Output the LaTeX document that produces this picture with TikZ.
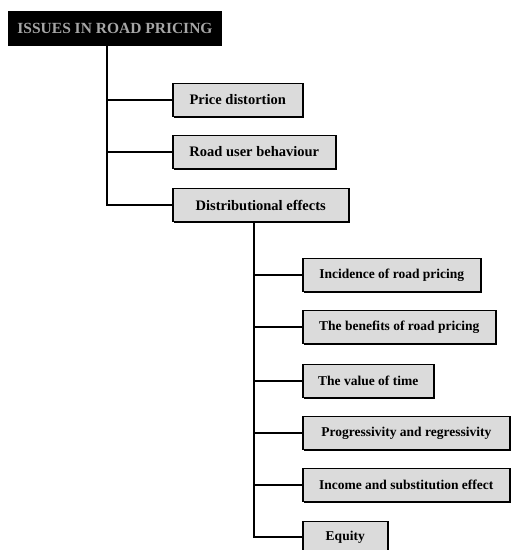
\documentclass[tikz,border=0pt]{standalone}
\usepackage{fontspec}
\setmainfont{Liberation Serif}
\usetikzlibrary{shadows}
\begin{document}
\begin{tikzpicture}[x=1pt, y=-1pt, every node/.style={font=\fontsize{13.5}{16}\selectfont\bfseries},
  box/.style={draw,line width=1.5pt,fill=gray!28,minimum height=33pt,inner sep=2pt,
    drop shadow={shadow xshift=1.2pt,shadow yshift=-1.2pt,fill=black,opacity=1}},
  topbox/.style={box,font=\fontsize{14.5}{17}\selectfont\bfseries},
  link/.style={line width=1.3pt}]
\useasboundingbox (0,0) rectangle (512,550);
\node[draw,line width=1.5pt,fill=black,text=gray!70,minimum width=213pt,minimum height=34pt,
  font=\fontsize{15.5}{18}\selectfont\bfseries] (root) at (115,28.5) {ISSUES IN ROAD PRICING};
% first level
\node[topbox,minimum width=130pt,anchor=west] (price) at (172,100) {Price distortion};
\node[topbox,minimum width=163pt,anchor=west] (road) at (172,152) {Road user behaviour};
\node[topbox,minimum width=176pt,anchor=west] (dist) at (172,205) {Distributional effects};
% second level
\node[box,minimum width=178pt,anchor=west] (inc) at (302,275) {Incidence of road pricing};
\node[box,minimum width=193pt,anchor=west] (ben) at (302,327) {The benefits of road pricing};
\node[box,minimum width=131pt,anchor=west] (vot) at (302,381) {The value of time};
\node[box,minimum width=207pt,anchor=west] (prog) at (302,433) {Progressivity and regressivity};
\node[box,minimum width=207pt,anchor=west] (subst) at (302,485) {Income and substitution effect};
\node[box,minimum width=85pt,anchor=west,minimum height=31pt] (eq) at (302,537) {Equity};
\coordinate (trunk) at (107,0 |- root.south);
\coordinate (branch) at (254,0 |- dist.south);
\draw[link] (trunk) |- (price.west);
\draw[link] (trunk) |- (road.west);
\draw[link] (trunk) |- (dist.west);
\foreach \n in {inc,ben,vot,prog,subst,eq}
  \draw[link] (branch) |- (\n.west);
\end{tikzpicture}
\end{document}
